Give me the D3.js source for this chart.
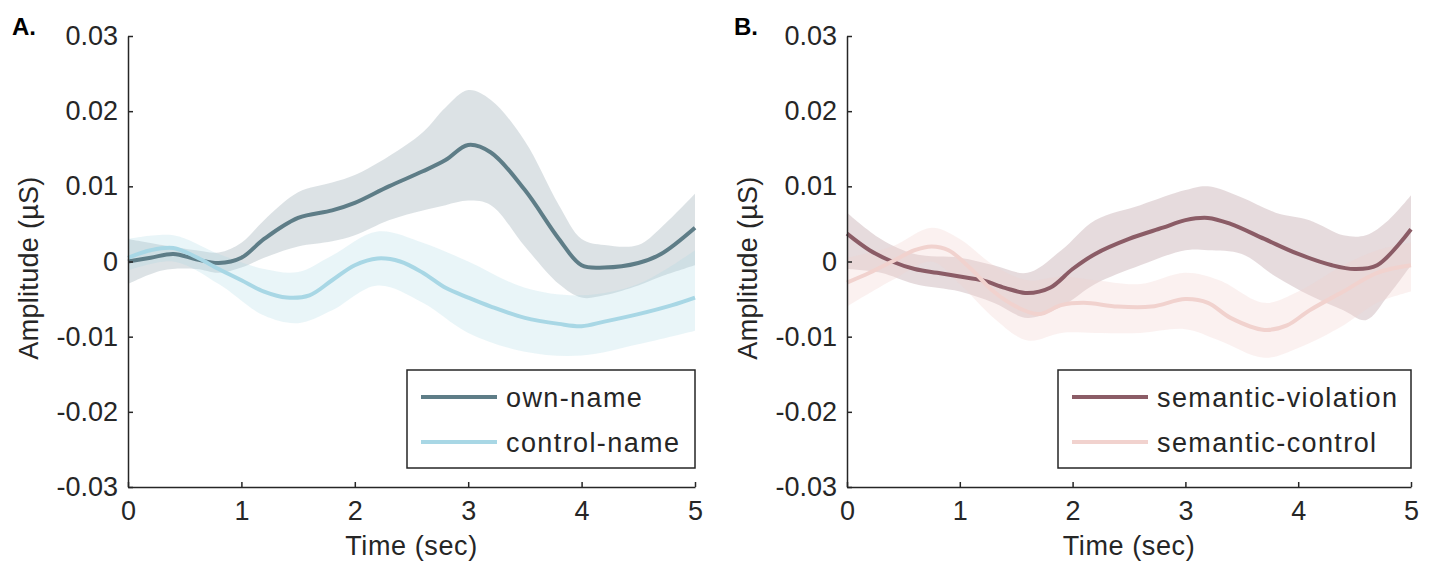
<!DOCTYPE html>
<html>
<head>
<meta charset="utf-8">
<script src="https://cdn.jsdelivr.net/npm/d3@7"></script>
<style>
  html, body { margin: 0; padding: 0; background: #fff; }
  svg text { font-family: "Liberation Sans", Arial, sans-serif; fill: #262626; }
</style>
</head>
<body>
<svg id="chart" width="1431" height="565"></svg>
<script>
// ---------- DATA ----------
const xTicks = [0, 1, 2, 3, 4, 5];
const yTicks = [-0.03, -0.02, -0.01, 0, 0.01, 0.02, 0.03];
const yTickLabels = ["-0.03", "-0.02", "-0.01", "0", "0.01", "0.02", "0.03"];
const xLabel = "Time (sec)";
const yLabel = "Amplitude (\u00B5S)";
const panelLabels = ["A.", "B."];
const seriesNamesA = ["own-name", "control-name"];
const seriesNamesB = ["semantic-violation", "semantic-control"];

// Panel A: own-name mean
const ownT    = [0, 0.2, 0.4, 0.6, 0.8, 1.0, 1.2, 1.5, 1.8, 2.0, 2.3, 2.6, 2.8, 3.0, 3.2, 3.5, 3.8, 4.0, 4.2, 4.5, 4.7, 5.0];
const ownMean = [0, 0.0005, 0.001, 0.0003, -0.0002, 0.0005, 0.003, 0.0058, 0.0068, 0.0078, 0.0100, 0.0120, 0.0135, 0.0155, 0.0145, 0.0095, 0.0030, -0.0005, -0.0008, -0.0002, 0.0010, 0.0045];
// own-name band
const ownBandT  = [0, 0.3, 0.6, 0.8, 1.0, 1.2, 1.5, 1.8, 2.0, 2.3, 2.6, 2.8, 3.0, 3.2, 3.5, 3.8, 4.0, 4.2, 4.5, 4.7, 5.0];
const ownUpper  = [0.003, 0.0022, 0.0015, 0.0012, 0.0025, 0.0055, 0.0092, 0.0105, 0.0115, 0.0140, 0.0172, 0.0205, 0.0228, 0.0215, 0.0160, 0.0075, 0.0030, 0.0022, 0.0022, 0.0045, 0.0090];
const ownLower  = [-0.003, -0.0012, -0.001, -0.0015, -0.0008, 0.0005, 0.0020, 0.0027, 0.0035, 0.0055, 0.0068, 0.0075, 0.0081, 0.0075, 0.0020, -0.0030, -0.0048, -0.0045, -0.0032, -0.0020, -0.0005];

// Panel A: control-name mean
const ctlT    = [0, 0.2, 0.4, 0.6, 0.8, 1.0, 1.2, 1.4, 1.6, 1.8, 2.0, 2.2, 2.4, 2.6, 2.8, 3.0, 3.2, 3.5, 3.8, 4.0, 4.2, 4.5, 4.8, 5.0];
const ctlMean = [0.0005, 0.0015, 0.0018, 0.0006, -0.001, -0.0025, -0.004, -0.0048, -0.0045, -0.0025, -0.0005, 0.0004, 0.0, -0.0015, -0.0035, -0.0048, -0.006, -0.0075, -0.0083, -0.0086, -0.0080, -0.0070, -0.0058, -0.0048];
const ctlBandT = [0, 0.4, 0.8, 1.2, 1.5, 1.8, 2.2, 2.6, 3.0, 3.5, 4.0, 4.5, 5.0];
const ctlUpper = [0.003, 0.0035, 0.0010, -0.0010, -0.0014, 0.0008, 0.0040, 0.0025, 0.0000, -0.0035, -0.0045, -0.0030, 0.0015];
const ctlLower = [-0.0012, 0.0000, -0.0030, -0.0072, -0.0082, -0.0065, -0.0032, -0.0055, -0.0095, -0.0120, -0.0125, -0.0110, -0.0092];

// Panel B: semantic-violation mean
const vioT    = [0, 0.2, 0.4, 0.6, 0.8, 1.0, 1.2, 1.4, 1.6, 1.8, 2.0, 2.2, 2.5, 2.8, 3.0, 3.2, 3.4, 3.7, 4.0, 4.3, 4.5, 4.7, 5.0];
const vioMean = [0.0037, 0.0015, 0.0, -0.001, -0.0015, -0.002, -0.0025, -0.0035, -0.0042, -0.0035, -0.001, 0.001, 0.003, 0.0045, 0.0055, 0.0058, 0.005, 0.003, 0.001, -0.0005, -0.001, -0.0005, 0.0043];
const vioBandT = [0, 0.3, 0.6, 1.0, 1.3, 1.6, 1.9, 2.2, 2.6, 3.0, 3.2, 3.5, 3.8, 4.1, 4.4, 4.6, 4.8, 5.0];
const vioUpper = [0.0065, 0.0030, 0.0010, 0.0005, -0.0005, -0.0015, 0.0015, 0.0055, 0.0075, 0.0095, 0.0100, 0.0085, 0.0065, 0.0055, 0.0035, 0.0035, 0.0055, 0.0088];
const vioLower = [-0.0010, -0.0015, -0.0030, -0.0040, -0.0055, -0.0075, -0.0060, -0.0030, -0.0005, 0.0015, 0.0015, 0.0010, -0.0020, -0.0045, -0.0065, -0.0078, -0.0045, -0.0005];

// Panel B: semantic-control mean
const semT    = [0, 0.2, 0.4, 0.6, 0.75, 0.9, 1.1, 1.3, 1.5, 1.7, 1.9, 2.1, 2.4, 2.7, 3.0, 3.2, 3.4, 3.7, 3.9, 4.1, 4.4, 4.7, 5.0];
const semMean = [-0.0028, -0.0015, 0.0, 0.0015, 0.002, 0.0015, -0.001, -0.004, -0.006, -0.007, -0.0058, -0.0055, -0.006, -0.006, -0.005, -0.0055, -0.0075, -0.0091, -0.0085, -0.0065, -0.004, -0.0015, -0.0005];
const semBandT = [0, 0.4, 0.75, 1.0, 1.3, 1.6, 1.9, 2.2, 2.6, 3.0, 3.3, 3.7, 4.0, 4.4, 4.7, 5.0];
const semUpper = [0.0005, 0.0020, 0.0045, 0.0030, -0.0005, -0.0025, -0.0020, -0.0025, -0.0030, -0.0015, -0.0025, -0.0055, -0.0040, -0.0005, 0.0015, 0.0025];
const semLower = [-0.0060, -0.0025, 0.0000, -0.0030, -0.0075, -0.0105, -0.0095, -0.0095, -0.0095, -0.0090, -0.0105, -0.0128, -0.0115, -0.0085, -0.0055, -0.0040];

// ---------- CHART ----------
const svg = d3.select("#chart");
const yScale = d3.scaleLinear().domain([-0.03, 0.03]).range([487, 36]);
const curve = d3.curveCatmullRom.alpha(0.5);

const panels = [
  { label: panelLabels[0], labelX: 12, x0: 128, x1: 695, yLabX: 29,
    names: seriesNamesA,
    series: [
      { t: ownT, m: ownMean, bt: ownBandT, up: ownUpper, lo: ownLower, color: "#5e7d87", band: "#5e7d87", bandOp: 0.22 },
      { t: ctlT, m: ctlMean, bt: ctlBandT, up: ctlUpper, lo: ctlLower, color: "#a8d7e5", band: "#a8d7e5", bandOp: 0.25 }
    ],
    legend: { x: 407, y: 370, w: 288, h: 98 } },
  { label: panelLabels[1], labelX: 734, x0: 847, x1: 1411, yLabX: 748,
    names: seriesNamesB,
    series: [
      { t: vioT, m: vioMean, bt: vioBandT, up: vioUpper, lo: vioLower, color: "#8b5c66", band: "#8b5c66", bandOp: 0.22 },
      { t: semT, m: semMean, bt: semBandT, up: semUpper, lo: semLower, color: "#f1d2ce", band: "#f1d2ce", bandOp: 0.3 }
    ],
    legend: { x: 1058, y: 370, w: 353, h: 98 } }
];

panels.forEach(p => {
  const x = d3.scaleLinear().domain([0, 5]).range([p.x0, p.x1]);
  const g = svg.append("g");

  // bands
  p.series.forEach(s => {
    const pts = s.bt.map((t, i) => ({ t, u: s.up[i], l: s.lo[i] }));
    const area = d3.area().x(d => x(d.t)).y0(d => yScale(d.l)).y1(d => yScale(d.u)).curve(curve);
    g.append("path").attr("d", area(pts)).attr("fill", s.band).attr("fill-opacity", s.bandOp).attr("stroke", "none");
  });
  // lines
  p.series.forEach(s => {
    const pts = s.t.map((t, i) => ({ t, v: s.m[i] }));
    const line = d3.line().x(d => x(d.t)).y(d => yScale(d.v)).curve(curve);
    g.append("path").attr("d", line(pts)).attr("fill", "none").attr("stroke", s.color).attr("stroke-width", 4);
  });

  // axes
  const yAxis = d3.axisLeft(yScale).tickValues(yTicks).tickFormat((d, i) => yTickLabels[i])
    .tickSizeInner(-5).tickSizeOuter(0).tickPadding(10);
  const ya = g.append("g").attr("transform", `translate(${p.x0},0)`).call(yAxis);
  const xAxis = d3.axisBottom(x).tickValues(xTicks).tickFormat(d3.format("d"))
    .tickSizeInner(-5).tickSizeOuter(0).tickPadding(14);
  const xa = g.append("g").attr("transform", `translate(0,${yScale(-0.03)})`).call(xAxis);
  [ya, xa].forEach(a => {
    a.selectAll("path.domain").attr("stroke", "#262626").attr("stroke-width", 1.5);
    a.selectAll(".tick line").attr("stroke", "#262626").attr("stroke-width", 1.5);
    a.selectAll(".tick text").attr("font-size", 27).attr("fill", "#262626")
      .style("font-family", '"Liberation Sans", Arial, sans-serif');
  });

  // axis titles
  g.append("text").attr("x", (p.x0 + p.x1) / 2).attr("y", 555).attr("text-anchor", "middle")
    .attr("font-size", 27).attr("letter-spacing", 0.6).text(xLabel);
  g.append("text").attr("transform", `translate(${p.yLabX},268) rotate(-90)`).attr("text-anchor", "middle")
    .attr("dy", "0.35em").attr("font-size", 27).attr("letter-spacing", 0.3).text(yLabel);

  // panel label
  g.append("text").attr("x", p.labelX).attr("y", 35).attr("font-size", 24).attr("font-weight", "bold")
    .attr("fill", "#000").style("fill", "#000").text(p.label);

  // legend
  const L = p.legend;
  g.append("rect").attr("x", L.x).attr("y", L.y).attr("width", L.w).attr("height", L.h)
    .attr("fill", "#fff").attr("stroke", "#262626").attr("stroke-width", 1.5);
  p.series.forEach((s, i) => {
    const ly = L.y + 27 + i * 45;
    g.append("line").attr("x1", L.x + 14).attr("x2", L.x + 90).attr("y1", ly).attr("y2", ly)
      .attr("stroke", s.color).attr("stroke-width", 4);
    g.append("text").attr("x", L.x + 99).attr("y", ly).attr("dy", "0.36em").attr("font-size", 27)
      .attr("letter-spacing", 1.4).text(p.names[i]);
  });
});
</script>
</body>
</html>
